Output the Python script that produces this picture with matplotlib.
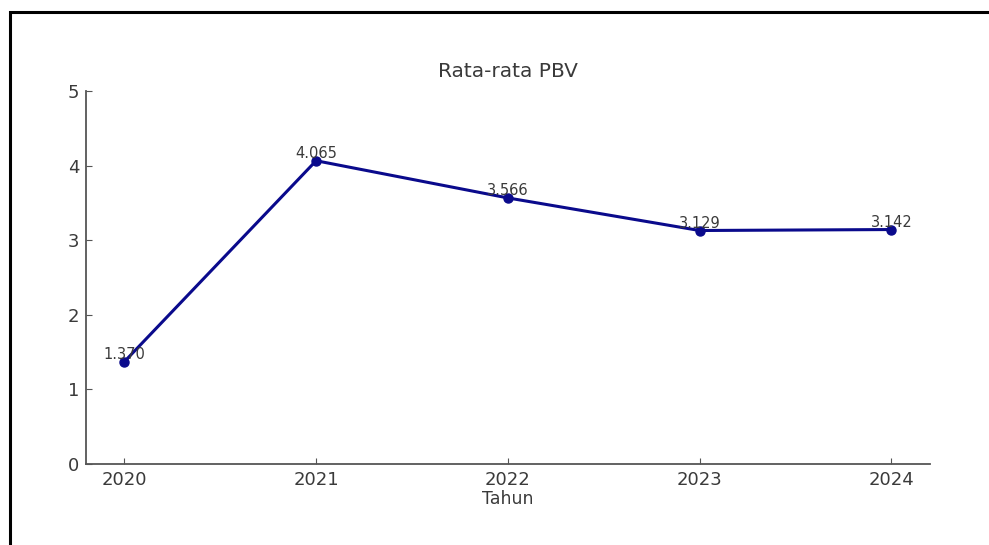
# Rata-rata PBV per tahun, line chart
import matplotlib
matplotlib.use('Agg')
import matplotlib.pyplot as plt
from matplotlib.patches import Rectangle

years = [2020, 2021, 2022, 2023, 2024]
pbv = [1.370, 4.065, 3.566, 3.129, 3.142]

fig = plt.figure(figsize=(9.89, 5.45), dpi=100)
ax = fig.add_axes([0.087, 0.149, 0.853, 0.684])

ax.plot(years, pbv, color='#0a0a8c', lw=2.2, marker='o', ms=6.5)
for x, y in zip(years, pbv):
    ax.text(x, y, '{:.3f}'.format(y), ha='center', va='bottom',
            fontsize=10.5, color='#3a3a3a')

ax.set_ylim(0, 5)
ax.set_xticks(years)
ax.set_yticks([0, 1, 2, 3, 4, 5])
ax.set_title('Rata-rata PBV', fontsize=14.5, color='#3a3a3a', pad=10)
ax.set_xlabel('Tahun', fontsize=12.5, color='#3a3a3a', labelpad=1)

for side in ['top', 'right']:
    ax.spines[side].set_visible(False)
for side in ['left', 'bottom']:
    ax.spines[side].set_color('#555555')
    ax.spines[side].set_linewidth(1.3)
ax.tick_params(direction='in', length=4, color='#555555',
               labelsize=13, labelcolor='#3a3a3a', pad=5)

# black frame around the picture (open to the right and bottom)
fig.add_artist(Rectangle((0.0101, -0.1), 1.2, 1.078, transform=fig.transFigure,
                         fill=False, edgecolor='black', lw=2.2, clip_on=False))

fig.savefig('out.png', dpi=100)
